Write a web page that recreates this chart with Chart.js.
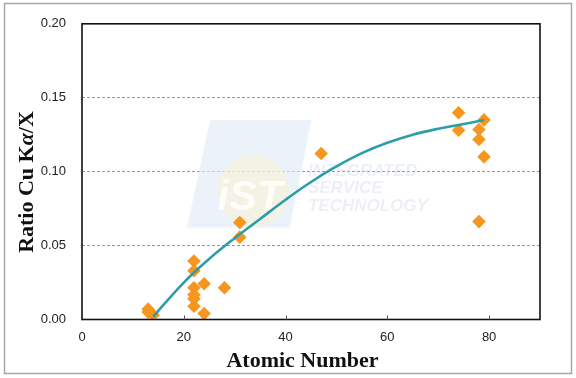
<!DOCTYPE html>
<html>
<head>
<meta charset="utf-8">
<script src="https://cdn.jsdelivr.net/npm/chart.js@4/dist/chart.umd.min.js"></script>
<style>
  html, body { margin: 0; padding: 0; background: #ffffff; }
  #wrap { width: 576px; height: 378px; position: relative; }
</style>
</head>
<body>
<div id="wrap"><canvas id="c" width="576" height="378"></canvas></div>
<script>
// ---- Data ----
const atomicNumbers = [13, 13, 14, 22, 22, 22, 22, 22, 22, 24, 24, 28, 31, 31, 47, 74, 74, 78, 78, 78, 79, 79];
const ratios        = [0.0070, 0.0050, 0.0030, 0.0396, 0.0330, 0.0215, 0.0167, 0.0140, 0.0090, 0.0242, 0.0040, 0.0215, 0.0656, 0.0557, 0.1123, 0.1398, 0.1280, 0.1285, 0.1217, 0.0662, 0.1350, 0.1100];

// Trend curve, read at points along the drawn line
const trendX = [14, 20, 25, 30, 35, 40, 45, 50, 55, 60, 65, 70, 75, 79];
const trendY = [0.002, 0.025, 0.041, 0.055, 0.068, 0.081, 0.093, 0.1035, 0.1125, 0.1195, 0.1250, 0.1290, 0.1322, 0.1350];

const xTicks = [0, 20, 40, 60, 80];
const yTicks = [0.00, 0.05, 0.10, 0.15, 0.20];

const xTitle = "Atomic Number";
const yTitleParts = ["Ratio Cu K", "α", "/X"];
const watermarkLines = ["INTEGRATED", "SERVICE", "TECHNOLOGY"];
const watermarkLogo = "iST";

const scatterPts = atomicNumbers.map((x, i) => ({ x: x, y: ratios[i] }));
const trendPts = trendX.map((x, i) => ({ x: x, y: trendY[i] }));

const decorPlugin = {
  id: 'decor',
  beforeDraw(chart) {
    const ctx = chart.ctx;
    ctx.save();
    ctx.fillStyle = '#ffffff';
    ctx.fillRect(0, 0, chart.width, chart.height);
    ctx.restore();
  },
  beforeDatasetsDraw(chart) {
    // faint watermark, positioned through the scales
    const ctx = chart.ctx;
    const xs = chart.scales.x, ys = chart.scales.y;
    const px = v => xs.getPixelForValue(v);
    const py = v => ys.getPixelForValue(v);
    ctx.save();
    ctx.fillStyle = 'rgba(222,233,246,0.6)';
    ctx.beginPath();
    ctx.moveTo(px(25.2), py(0.135));
    ctx.lineTo(px(45.1), py(0.135));
    ctx.lineTo(px(40.8), py(0.062));
    ctx.lineTo(px(20.6), py(0.062));
    ctx.closePath();
    ctx.fill();
    ctx.fillStyle = 'rgba(253,242,205,0.5)';
    ctx.beginPath();
    ctx.arc(px(33.6), py(0.087), 36, 0, Math.PI * 2);
    ctx.fill();
    ctx.fillStyle = 'rgba(255,255,255,0.8)';
    ctx.font = 'italic bold 42px "Liberation Sans", Arial, sans-serif';
    ctx.textAlign = 'center';
    ctx.textBaseline = 'middle';
    ctx.fillText(watermarkLogo, px(33.0), py(0.082));
    ctx.fillStyle = 'rgba(205,216,232,0.38)';
    ctx.font = 'italic bold 17px "Liberation Sans", Arial, sans-serif';
    ctx.textAlign = 'left';
    ctx.fillText(watermarkLines[0], px(44.4), py(0.1005));
    ctx.fillText(watermarkLines[1], px(44.4), py(0.0885));
    ctx.fillText(watermarkLines[2], px(44.4), py(0.0765));
    ctx.restore();
  },
  afterDraw(chart) {
    const ctx = chart.ctx;
    const a = chart.chartArea;
    const xs = chart.scales.x;
    ctx.save();
    // plot border
    ctx.strokeStyle = '#111111';
    ctx.lineWidth = 1.6;
    ctx.strokeRect(a.left, a.top, a.right - a.left, a.bottom - a.top);
    // inward x ticks
    ctx.lineWidth = 1;
    ctx.strokeStyle = '#555555';
    xTicks.forEach(v => {
      if (v === 0) return;
      const x = Math.round(xs.getPixelForValue(v)) + 0.5;
      ctx.beginPath();
      ctx.moveTo(x, a.bottom);
      ctx.lineTo(x, a.bottom - 4);
      ctx.stroke();
    });
    // outer frame
    ctx.strokeStyle = '#a6a6a6';
    ctx.lineWidth = 1.5;
    ctx.strokeRect(4.5, 3.5, 567, 370);
    // x title
    ctx.fillStyle = '#111111';
    ctx.font = 'bold 22px "Liberation Serif", "Times New Roman", serif';
    ctx.textAlign = 'center';
    ctx.textBaseline = 'alphabetic';
    ctx.fillText(xTitle, 302.5, 366.5);
    // y title (rotated), with italic alpha
    ctx.translate(32.5, 182);
    ctx.rotate(-Math.PI / 2);
    const fN = 'bold 22px "Liberation Serif", "Times New Roman", serif';
    const fI = 'italic bold 22px "Liberation Serif", "Times New Roman", serif';
    const fonts = [fN, fI, fN];
    let widths = yTitleParts.map((t, i) => { ctx.font = fonts[i]; return ctx.measureText(t).width; });
    let total = widths.reduce((s, w) => s + w, 0);
    let cx = -total / 2;
    ctx.textAlign = 'left';
    yTitleParts.forEach((t, i) => {
      ctx.font = fonts[i];
      ctx.fillText(t, cx, 0);
      cx += widths[i];
    });
    ctx.restore();
  }
};

new Chart(document.getElementById('c'), {
  type: 'scatter',
  data: {
    datasets: [
      {
        label: 'Ratio',
        data: scatterPts,
        pointStyle: 'rectRot',
        pointRadius: 6.8,
        pointHoverRadius: 6.8,
        backgroundColor: '#F7961E',
        borderColor: '#F7961E',
        borderWidth: 0,
        order: 2
      },
      {
        label: 'Trend',
        type: 'line',
        data: trendPts,
        showLine: true,
        borderColor: '#2E9DAA',
        borderWidth: 2.6,
        pointRadius: 0,
        fill: false,
        tension: 0.4,
        order: 1
      }
    ]
  },
  options: {
    responsive: false,
    animation: false,
    devicePixelRatio: 1,
    layout: { padding: { left: 0, right: 36, top: 16.7, bottom: 0 } },
    plugins: {
      legend: { display: false },
      tooltip: { enabled: false },
      title: { display: false }
    },
    scales: {
      x: {
        type: 'linear',
        min: 0,
        max: 90,
        afterBuildTicks: s => { s.ticks = xTicks.map(v => ({ value: v })); },
        ticks: {
          color: '#222222',
          font: { family: '"Liberation Sans", Arial, sans-serif', size: 13 },
          padding: 10,
          maxRotation: 0,
          callback: v => String(v)
        },
        grid: { display: false, drawTicks: false },
        border: { display: false },
        afterFit: s => { s.height = 58.5; }
      },
      y: {
        type: 'linear',
        min: 0,
        max: 0.2,
        afterBuildTicks: s => { s.ticks = yTicks.map(v => ({ value: v })); },
        ticks: {
          color: '#222222',
          font: { family: '"Liberation Sans", Arial, sans-serif', size: 13 },
          padding: 16,
          callback: v => Number(v).toFixed(2)
        },
        grid: {
          drawTicks: false,
          color: ctx => (ctx.tick && (ctx.tick.value > 0.001 && ctx.tick.value < 0.199)) ? '#9a9a9a' : 'rgba(0,0,0,0)',
          lineWidth: 1
        },
        border: { display: false, dash: [3, 2] },
        afterFit: s => { s.width = 82; }
      }
    }
  },
  plugins: [decorPlugin]
});
</script>
</body>
</html>
